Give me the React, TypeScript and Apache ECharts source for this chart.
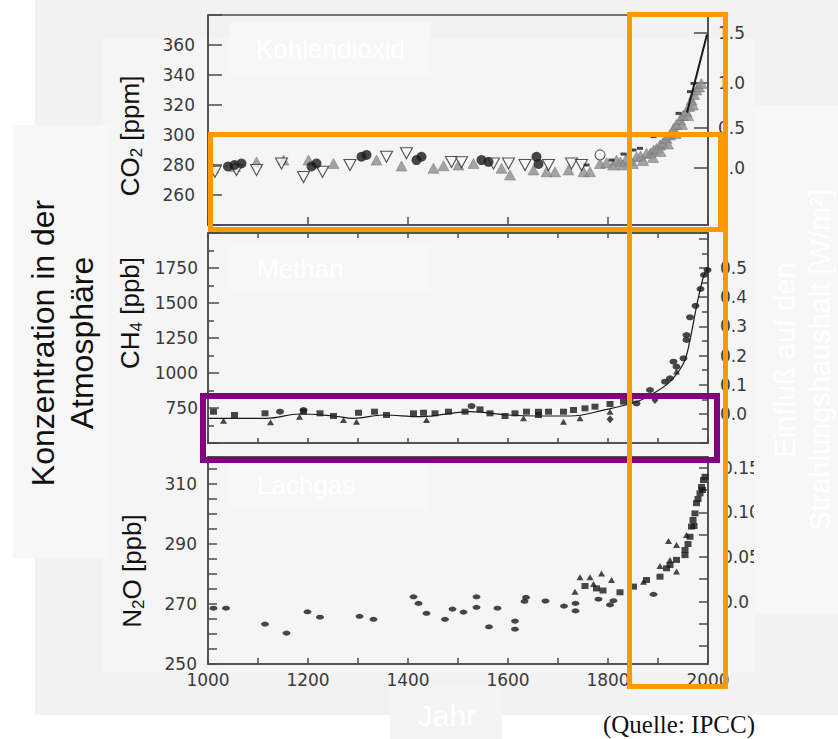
import React, { useEffect, useRef } from 'react';
import * as echarts from 'echarts';

// ---------- X axis (years) ----------
const yearMin = 1000;
const yearMax = 2000;

// ---------- CO2 panel [ppm] ----------
const co2OpenTriangles = [
  [1014, 275.5], [1057, 276.7], [1097, 276.7], [1147, 281], [1191, 272], [1229, 275.5],
  [1284, 280], [1357, 285.5], [1397, 287.8], [1487, 282], [1507, 281.8], [1571, 281],
  [1601, 281], [1634, 280], [1681, 280], [1727, 281], [1747, 280],
];
const co2Circles = [
  [1040, 279], [1053, 280], [1067, 281], [1207, 279], [1217, 281], [1307, 285.5], [1317, 286.7],
  [1417, 283.3], [1427, 285.5], [1547, 283.3], [1561, 282], [1657, 285.5], [1661, 280.7],
];
const co2GrayTriangles = [
  [1010, 278], [1054, 279], [1097, 282], [1151, 283.3], [1201, 283.3], [1251, 281], [1337, 283.3],
  [1387, 279.3], [1451, 277.8], [1471, 279.5], [1501, 280], [1531, 281], [1587, 277.8],
  [1604, 273.3], [1651, 276.7], [1677, 275.5], [1694, 275.5], [1721, 276.7], [1751, 275.5],
  [1764, 275.5], [1784, 281], [1797, 281.5], [1810, 280], [1817, 283.3], [1825, 282],
  [1837, 284.4], [1845, 283], [1857, 285.5], [1865, 286], [1877, 287.8], [1885, 288],
  [1891, 290], [1897, 291], [1904, 293.3], [1910, 295], [1917, 297.8], [1924, 300],
  [1931, 304.4], [1937, 307], [1944, 310], [1950, 313], [1957, 315.5], [1962, 319],
  [1967, 323.3], [1972, 327], [1977, 330], [1982, 332], [1987, 334.4],
  [1830, 280], [1850, 281], [1870, 283], [1890, 285], [1905, 289], [1920, 294],
  [1935, 301], [1948, 307], [1960, 313], [1970, 320],
];
const co2Dots = [
  [1757, 280], [1807, 283.3], [1831, 287.3], [1851, 290], [1864, 291.1], [1891, 298.9],
  [1941, 314.4], [1964, 328.9], [1971, 334.4],
];
const co2OpenCircle = [[1784, 286.7]];
const co2MaunaLoa = [[1958, 315], [1968, 328], [1978, 341], [1988, 354], [1998, 367]];
// right axis: radiative forcing labels and the CO2 concentration where they sit
const co2ForcingLabels = ['0.0', '0.5', '1.0', '1.5'];
const co2ForcingAt = [278, 305, 335, 368];

// ---------- CH4 panel [ppb] ----------
const ch4Squares = [
  [1011, 723.6], [1053, 700], [1114, 712], [1191, 723.6], [1224, 712], [1251, 693], [1301, 716],
  [1333, 723.6], [1357, 700], [1411, 712], [1431, 716], [1454, 712], [1481, 723.6], [1514, 723.6],
  [1544, 740], [1564, 712], [1594, 693], [1614, 712], [1637, 723.6], [1661, 723], [1661, 700],
  [1681, 723.6], [1711, 723.6], [1731, 735.7], [1754, 747.6], [1774, 759.5], [1804, 778.6],
  [1831, 795], [1844, 807],
];
const ch4Circles = [
  [1144, 723.6], [1191, 735.7], [1527, 764], [1857, 783], [1884, 878.6], [1914, 938], [1924, 962],
  [1931, 1081], [1937, 1045], [1951, 1105], [1957, 1236], [1957, 1271], [1964, 1398],
  [1975, 1480], [1985, 1600], [1992, 1700], [1999, 1735],
];
const ch4Triangles = [
  [1031, 659], [1125, 647.6], [1183, 688], [1271, 664], [1297, 652], [1437, 664], [1631, 676],
  [1711, 652], [1744, 676], [1804, 723.6], [1937, 1010],
];
const ch4Diamonds = [[1804, 669], [1894, 807]];
const ch4Fit = [
  [1000, 676], [1117, 676], [1184, 707], [1251, 693], [1291, 676], [1351, 700], [1424, 688],
  [1524, 724], [1600, 700], [1657, 693], [1724, 693], [1791, 735], [1857, 795], [1891, 855],
  [1924, 938], [1951, 1069], [1964, 1236], [1977, 1474], [1991, 1688], [1999, 1748],
];

// ---------- N2O panel [ppb] ----------
const n2oCircles = [
  [1011, 268.6], [1036, 268.6], [1114, 263.3], [1157, 260.3], [1199, 267.4], [1224, 265.6],
  [1303, 265.9], [1331, 264.9], [1411, 272.4], [1421, 270.2], [1437, 266.9], [1474, 264.9],
  [1489, 268.3], [1511, 267.3], [1537, 272.4], [1537, 268.9], [1562, 262.4], [1579, 268.6],
  [1614, 264.3], [1614, 261.6], [1636, 272.2], [1633, 270.9], [1675, 271], [1712, 269.3],
  [1735, 270.2], [1735, 267.7], [1781, 271.6], [1804, 269.7], [1811, 271.1], [1891, 273.2],
];
const n2oSquares = [
  [1754, 276], [1777, 275.2], [1790, 274.5], [1824, 273.9], [1851, 275.8], [1877, 278],
  [1904, 279.1], [1917, 281.9], [1924, 283], [1937, 284.7], [1954, 288], [1954, 286.3],
  [1960, 290], [1964, 292.4], [1967, 295.8], [1970, 298], [1972, 296], [1974, 300.2],
  [1977, 303.6], [1980, 305], [1984, 306.9], [1987, 309], [1989, 308], [1991, 311.3], [1994, 312.4],
];
const n2oTriangles = [
  [1734, 274.1], [1744, 278.9], [1764, 278.9], [1771, 276.7], [1787, 280.2], [1807, 278],
  [1871, 277.4], [1904, 282.7], [1921, 291], [1924, 284.7], [1937, 289.7], [1937, 280.8], [1957, 293],
];
const n2oForcingTicks = [-0.05, -0.025, 0, 0.025, 0.05, 0.075, 0.1, 0.125, 0.15];
const n2oForcingLabels = [0, 0.05, 0.1, 0.15];

// ---------- styling ----------
const AXF = 'DejaVu Sans';
const TXF = 'Liberation Sans';
const LBL = '#3a3a3a';
const FRAME = '#4a4a4a';
const INK = '#1a1a1a';
const ORANGE = '#FF9900';
const PURPLE = '#800080';

const axisLabelStyle = { color: LBL, fontFamily: AXF, fontSize: 17 };
const lineSt = { color: FRAME, width: 1.5 };

function xAx(grid: number, pos: string, interval: number, tickLen: number, labels = false) {
  return {
    type: 'value', gridIndex: grid, position: pos, min: yearMin, max: yearMax, interval,
    axisLine: { show: true, onZero: false, lineStyle: lineSt },
    axisTick: { show: true, inside: true, length: tickLen, lineStyle: lineSt },
    axisLabel: labels
      ? { show: true, margin: 7, ...axisLabelStyle, formatter: (v: number) => (v % 200 === 0 ? String(v) : '') }
      : { show: false },
    splitLine: { show: false },
  };
}

function sc(x: number, y: number, data: number[][], symbol: string, size: any, item: any, z = 3) {
  return { type: 'scatter', xAxisIndex: x, yAxisIndex: y, data, symbol, symbolSize: size, itemStyle: item, z, silent: true };
}

function subLabel(main: string, sub: string, rest: string, x: number, y: number) {
  return {
    type: 'text', x, y, rotation: Math.PI / 2, z: 5,
    style: {
      text: `{a|${main}}{b|${sub}}{a|${rest}}`, align: 'center', verticalAlign: 'middle',
      rich: {
        a: { fontSize: 26, fontFamily: TXF, fill: '#111', lineHeight: 30 },
        b: { fontSize: 17, fontFamily: TXF, fill: '#111', lineHeight: 13, verticalAlign: 'bottom' },
      },
    },
  };
}

const option: any = {
  animation: false,
  backgroundColor: '#ffffff',
  grid: [
    { left: 208, top: 15, width: 500, height: 210, show: true, borderColor: FRAME, borderWidth: 1.5, backgroundColor: 'transparent' },
    { left: 208, top: 233, width: 500, height: 210, show: true, borderColor: FRAME, borderWidth: 1.5, backgroundColor: 'transparent' },
    { left: 208, top: 457, width: 500, height: 207, show: true, borderColor: FRAME, borderWidth: 1.5, backgroundColor: 'transparent' },
  ],
  xAxis: [
    xAx(0, 'bottom', 200, 8),
    xAx(1, 'top', 100, 5),
    xAx(1, 'bottom', 100, 5),
    xAx(2, 'top', 100, 5),
    xAx(2, 'bottom', 100, 6, true),
  ],
  yAxis: [
    {
      type: 'value', gridIndex: 0, position: 'left', min: 240, max: 380, interval: 20,
      axisLine: { show: true, onZero: false, lineStyle: lineSt },
      axisTick: { inside: true, length: 14, lineStyle: lineSt },
      axisLabel: { margin: 13, ...axisLabelStyle, formatter: (v: number) => (v === 240 || v === 380 ? '' : String(v)) },
      splitLine: { show: false },
    },
    {
      type: 'value', gridIndex: 0, position: 'right', min: 240, max: 380,
      axisLine: { show: true, onZero: false, lineStyle: lineSt },
      axisTick: { inside: true, length: 14, lineStyle: lineSt, customValues: co2ForcingAt },
      axisLabel: {
        margin: 10, ...axisLabelStyle, customValues: co2ForcingAt,
        formatter: (v: number) => { const i = co2ForcingAt.indexOf(v); return i >= 0 ? co2ForcingLabels[i] : ''; },
      },
      splitLine: { show: false },
    },
    {
      type: 'value', gridIndex: 1, position: 'left', min: 500, max: 2000, interval: 250,
      axisLine: { show: true, onZero: false, lineStyle: lineSt },
      axisTick: { inside: true, length: 11, lineStyle: lineSt },
      minorTick: { show: true, splitNumber: 2, length: 6, lineStyle: lineSt },
      axisLabel: { margin: 10, ...axisLabelStyle, formatter: (v: number) => (v >= 750 && v <= 1750 ? String(v) : '') },
      splitLine: { show: false },
    },
    {
      type: 'value', gridIndex: 1, position: 'right', min: -0.1, max: 0.62, interval: 0.1,
      axisLine: { show: true, onZero: false, lineStyle: lineSt },
      axisTick: { inside: true, length: 9, lineStyle: lineSt },
      minorTick: { show: true, splitNumber: 2, length: 6, lineStyle: lineSt },
      axisLabel: { margin: 12, ...axisLabelStyle, formatter: (v: number) => (v > -0.001 && v < 0.501 ? v.toFixed(1) : '') },
      splitLine: { show: false },
    },
    {
      type: 'value', gridIndex: 2, position: 'left', min: 250, max: 319, interval: 5,
      axisLine: { show: true, onZero: false, lineStyle: lineSt },
      axisTick: { inside: true, length: 9, lineStyle: lineSt },
      axisLabel: { margin: 11, ...axisLabelStyle, formatter: (v: number) => ((v - 250) % 20 === 0 ? String(v) : '') },
      splitLine: { show: false },
    },
    {
      type: 'value', gridIndex: 2, position: 'right', min: -0.07, max: 0.162,
      axisLine: { show: true, onZero: false, lineStyle: lineSt },
      axisTick: { inside: true, length: 9, lineStyle: lineSt, customValues: n2oForcingTicks },
      axisLabel: {
        margin: 14, ...axisLabelStyle, customValues: n2oForcingLabels,
        formatter: (v: number) => (Math.abs(v) < 1e-9 ? '0.0' : v.toFixed(2)),
      },
      splitLine: { show: false },
    },
  ],
  series: [
    // CO2
    sc(0, 0, co2GrayTriangles, 'triangle', [11, 10], { color: '#8e8e8e', borderColor: '#707070', borderWidth: 0.6 }),
    sc(0, 0, co2OpenTriangles, 'path://M0,0L20,0L10,18Z', [12, 11], { color: '#f8f8f8', borderColor: '#2a2a2a', borderWidth: 1.1 }, 4),
    sc(0, 0, co2Circles, 'circle', 10, { color: INK }, 4),
    sc(0, 0, co2Dots, 'rect', [6, 3], { color: INK }, 4),
    sc(0, 0, co2OpenCircle, 'circle', 10, { color: '#f8f8f8', borderColor: '#333', borderWidth: 1.1 }, 4),
    {
      type: 'line', xAxisIndex: 0, yAxisIndex: 0, data: co2MaunaLoa, showSymbol: false, silent: true, z: 5,
      lineStyle: { color: INK, width: 2 },
    },
    // CH4
    {
      type: 'line', xAxisIndex: 2, yAxisIndex: 2, data: ch4Fit, smooth: 0.4, showSymbol: false, silent: true, z: 2,
      lineStyle: { color: INK, width: 1.2 },
    },
    sc(2, 2, ch4Squares, 'rect', [7, 6], { color: INK }),
    sc(2, 2, ch4Circles, 'circle', [8, 6], { color: INK }),
    sc(2, 2, ch4Triangles, 'triangle', [7, 6], { color: INK }),
    sc(2, 2, ch4Diamonds, 'diamond', [7, 8], { color: INK }),
    // N2O
    sc(4, 4, n2oCircles, 'circle', [8, 5], { color: INK }),
    sc(4, 4, n2oSquares, 'rect', [7, 6], { color: INK }),
    sc(4, 4, n2oTriangles, 'triangle', [7, 6], { color: INK }),
  ],
  graphic: [
    // background layers
    { type: 'rect', z: -20, shape: { x: 35, y: 0, width: 803, height: 715 }, style: { fill: '#f2f2f2' } },
    { type: 'rect', z: -19, shape: { x: 102, y: 38, width: 653, height: 635 }, style: { fill: '#f5f5f5' } },
    { type: 'rect', z: -18, shape: { x: 13, y: 125, width: 97, height: 433 }, style: { fill: '#f7f7f7' } },
    { type: 'rect', z: -18, shape: { x: 390, y: 685, width: 112, height: 54 }, style: { fill: '#f4f4f4' } },
    { type: 'rect', z: -17, shape: { x: 230, y: 22, width: 200, height: 53 }, style: { fill: '#f7f7f7' } },
    { type: 'rect', z: -17, shape: { x: 230, y: 243, width: 200, height: 50 }, style: { fill: '#f7f7f7' } },
    { type: 'rect', z: -17, shape: { x: 230, y: 460, width: 200, height: 50 }, style: { fill: '#f7f7f7' } },
    { type: 'rect', z: 10, shape: { x: 754, y: 105, width: 84, height: 508 }, style: { fill: '#f7f7f7' } },
    // white panel titles
    { type: 'text', z: 6, x: 256, y: 49, style: { text: 'Kohlendioxid', fontSize: 26, fontFamily: TXF, fill: '#ffffff', verticalAlign: 'middle' } },
    { type: 'text', z: 6, x: 257, y: 269, style: { text: 'Methan', fontSize: 26, fontFamily: TXF, fill: '#ffffff', verticalAlign: 'middle' } },
    { type: 'text', z: 6, x: 257, y: 485, style: { text: 'Lachgas', fontSize: 26, fontFamily: TXF, fill: '#ffffff', verticalAlign: 'middle' } },
    { type: 'text', z: 6, x: 447, y: 715, style: { text: 'Jahr', fontSize: 30, fontFamily: TXF, fill: '#ffffff', align: 'center', verticalAlign: 'middle' } },
    {
      type: 'text', z: 11, x: 802, y: 360, rotation: Math.PI / 2,
      style: { text: 'Einfluß auf den\nStrahlungshaushalt [W/m²]', fontSize: 29, lineHeight: 35, fontFamily: TXF, fill: '#ffffff', align: 'center', verticalAlign: 'middle' },
    },
    // black titles
    {
      type: 'text', z: 5, x: 62, y: 343, rotation: Math.PI / 2,
      style: { text: 'Konzentration in der\nAtmosphäre', fontSize: 32, lineHeight: 39, fontFamily: TXF, fill: '#111', align: 'center', verticalAlign: 'middle' },
    },
    subLabel('CO', '2', ' [ppm]', 130, 136),
    subLabel('CH', '4', ' [ppb]', 130, 313),
    subLabel('N', '2', 'O [ppb]', 132, 571),
    { type: 'text', z: 5, x: 755, y: 724, style: { text: '(Quelle: IPCC)', fontSize: 25, fontFamily: 'Liberation Serif', fill: '#111', align: 'right', verticalAlign: 'middle' } },
    // highlight frames
    { type: 'rect', z: 99, shape: { x: 203, y: 396, width: 514, height: 64 }, style: { fill: 'none', stroke: PURPLE, lineWidth: 6 } },
    { type: 'rect', z: 100, shape: { x: 210.5, y: 134.5, width: 510, height: 95 }, style: { fill: 'none', stroke: ORANGE, lineWidth: 5 } },
    { type: 'rect', z: 100, shape: { x: 629.5, y: 14.5, width: 96, height: 672 }, style: { fill: 'none', stroke: ORANGE, lineWidth: 5 } },
  ],
};

export default function App() {
  const ref = useRef<HTMLDivElement>(null);
  useEffect(() => {
    const chart = echarts.init(ref.current as HTMLDivElement, null, { renderer: 'svg', width: 838, height: 739 });
    chart.setOption(option);
    return () => chart.dispose();
  }, []);
  return <div ref={ref} style={{ position: 'fixed', left: 0, top: 0, width: 838, height: 739 }} />;
}
